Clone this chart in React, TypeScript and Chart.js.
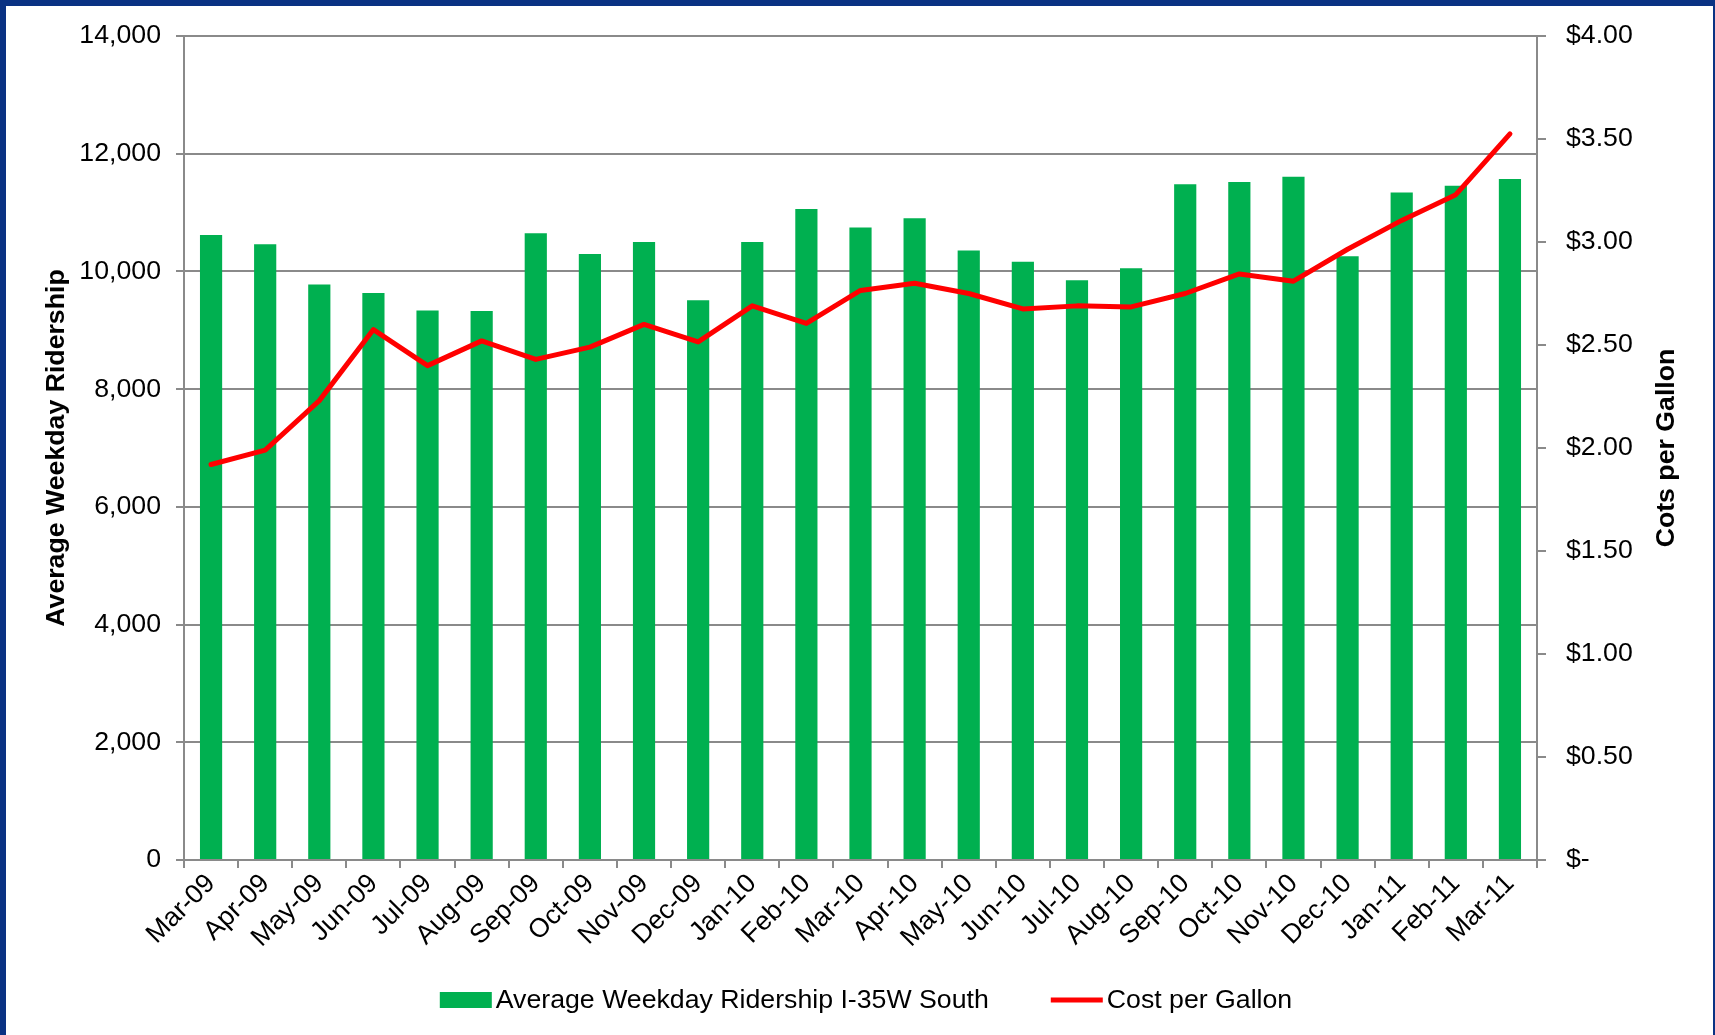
import React, { useEffect, useRef } from 'react';
import { Chart, registerables } from 'chart.js';

Chart.register(...registerables);

const MONTHS = [
  'Mar-09', 'Apr-09', 'May-09', 'Jun-09', 'Jul-09', 'Aug-09', 'Sep-09', 'Oct-09', 'Nov-09', 'Dec-09',
  'Jan-10', 'Feb-10', 'Mar-10', 'Apr-10', 'May-10', 'Jun-10', 'Jul-10', 'Aug-10', 'Sep-10', 'Oct-10',
  'Nov-10', 'Dec-10', 'Jan-11', 'Feb-11', 'Mar-11',
];

const RIDERSHIP = [
  10620, 10460, 9780, 9635, 9335, 9330, 10650, 10295, 10500, 9510,
  10500, 11060, 10745, 10905, 10355, 10165, 9850, 10055, 11480, 11520,
  11610, 10260, 11340, 11455, 11570,
];

const COST = [
  1.92, 1.99, 2.23, 2.575, 2.40, 2.52, 2.43, 2.49, 2.60, 2.515,
  2.69, 2.605, 2.765, 2.80, 2.75, 2.675, 2.69, 2.685, 2.75, 2.845,
  2.81, 2.965, 3.105, 3.23, 3.525,
];

const RIDERSHIP_MIN = 0;
const RIDERSHIP_MAX = 14000;
const RIDERSHIP_STEP = 2000;
const COST_MIN = 0;
const COST_MAX = 4;
const COST_STEP = 0.5;

const BAR_LABEL = 'Average Weekday Ridership I-35W South';
const LINE_LABEL = 'Cost per Gallon';
const LEFT_TITLE = 'Average Weekday Ridership';
const RIGHT_TITLE = 'Cots per Gallon';

const GREEN = '#00b050';
const RED = '#ff0000';
const GRID = '#8a8a8a';
const FONT = '"Liberation Sans", Arial, sans-serif';
const FS = 26.7;

const W = 1715;
const H = 1035;

const rightTitlePlugin = {
  id: 'rightTitle',
  afterDraw(chart: any) {
    const { ctx, chartArea } = chart;
    ctx.save();
    ctx.translate(1667, (chartArea.top + chartArea.bottom) / 2);
    ctx.rotate(-Math.PI / 2);
    ctx.font = `bold ${FS}px ${FONT}`;
    ctx.fillStyle = '#000';
    ctx.textAlign = 'center';
    ctx.textBaseline = 'middle';
    ctx.fillText(RIGHT_TITLE, 0, 0);
    ctx.restore();
  },
};

const legendPlugin = {
  id: 'customLegend',
  afterDraw(chart: any) {
    const { ctx } = chart;
    ctx.save();
    ctx.font = `${FS}px ${FONT}`;
    const ds = chart.data.datasets;
    const barDs = ds.find((d: any) => d.type === 'bar');
    const lineDs = ds.find((d: any) => d.type === 'line');
    const boxW = 52;
    const boxH = 16;
    const gap = 4;
    const spacing = 62;
    const t1 = ctx.measureText(barDs.label).width;
    const t2 = ctx.measureText(lineDs.label).width;
    const total = boxW + gap + t1 + spacing + boxW + gap + t2;
    const cx = 866;
    const cy = 1000;
    let x = cx - total / 2;
    ctx.fillStyle = barDs.backgroundColor;
    ctx.fillRect(x, cy - boxH / 2, boxW, boxH);
    x += boxW + gap;
    ctx.fillStyle = '#000';
    ctx.textAlign = 'left';
    ctx.textBaseline = 'middle';
    ctx.fillText(barDs.label, x, cy + 1);
    x += t1 + spacing;
    ctx.strokeStyle = lineDs.borderColor;
    ctx.lineWidth = 5;
    ctx.beginPath();
    ctx.moveTo(x, cy);
    ctx.lineTo(x + boxW, cy);
    ctx.stroke();
    x += boxW + gap;
    ctx.fillText(lineDs.label, x, cy + 1);
    ctx.restore();
  },
};

export default function App() {
  const ref = useRef<HTMLCanvasElement | null>(null);

  useEffect(() => {
    if (!ref.current) return;
    const chart = new Chart(ref.current, {
      type: 'bar',
      data: {
        labels: MONTHS,
        datasets: [
          {
            type: 'line',
            label: LINE_LABEL,
            data: COST,
            yAxisID: 'y1',
            borderColor: RED,
            backgroundColor: RED,
            borderWidth: 5,
            pointRadius: 0,
            tension: 0,
            borderCapStyle: 'round',
            borderJoinStyle: 'round',
            order: 0,
          } as any,
          {
            type: 'bar',
            label: BAR_LABEL,
            data: RIDERSHIP,
            yAxisID: 'y',
            backgroundColor: GREEN,
            barPercentage: 0.41,
            categoryPercentage: 1,
            order: 1,
          } as any,
        ],
      },
      options: {
        animation: false,
        responsive: false,
        devicePixelRatio: 1,
        layout: { padding: { top: 35, left: 0, right: 0, bottom: 65 } },
        plugins: {
          legend: { display: false },
          tooltip: { enabled: false },
        },
        scales: {
          x: {
            grid: {
              offset: true,
              drawOnChartArea: false,
              drawTicks: true,
              tickLength: 8,
              color: GRID,
              lineWidth: 2,
            },
            border: { display: true, color: GRID, width: 2 },
            ticks: {
              autoSkip: false,
              maxRotation: 45,
              minRotation: 45,
              padding: 0,
              color: '#000',
              font: { size: FS, family: FONT },
            },
            afterFit: (s: any) => { s.height = 110; },
          },
          y: {
            position: 'left',
            min: RIDERSHIP_MIN,
            max: RIDERSHIP_MAX,
            grid: {
              color: GRID,
              lineWidth: 2,
              tickLength: 8,
              drawTicks: true,
            },
            border: { display: true, color: GRID, width: 2 },
            ticks: {
              stepSize: RIDERSHIP_STEP,
              padding: 15,
              color: '#000',
              font: { size: FS, family: FONT },
              callback: (v: any) => Number(v).toLocaleString('en-US'),
            },
            title: {
              display: true,
              text: LEFT_TITLE,
              color: '#000',
              font: { size: FS, family: FONT, weight: 'bold' },
              padding: { top: 41, bottom: 0 },
            },
            afterFit: (s: any) => { s.width = 184; },
          },
          y1: {
            position: 'right',
            min: COST_MIN,
            max: COST_MAX,
            grid: {
              drawOnChartArea: false,
              drawTicks: true,
              tickLength: 9,
              color: GRID,
              lineWidth: 2,
            },
            border: { display: true, color: GRID, width: 2 },
            ticks: {
              stepSize: COST_STEP,
              padding: 20,
              color: '#000',
              font: { size: FS, family: FONT },
              callback: (v: any) => (Number(v) === 0 ? '$-' : '$' + Number(v).toFixed(2)),
            },
            afterFit: (s: any) => { s.width = 178; },
          },
        },
      } as any,
      plugins: [rightTitlePlugin, legendPlugin],
    });
    return () => chart.destroy();
  }, []);

  return (
    <div style={{ position: 'absolute', left: 0, top: 0, width: W, height: H, background: '#0a3283' }}>
      <div style={{ position: 'absolute', left: 6, top: 6, width: W - 8, height: H - 6, background: '#ffffff' }} />
      <canvas ref={ref} width={W} height={H} style={{ position: 'absolute', left: 0, top: 0, width: W, height: H }} />
    </div>
  );
}
